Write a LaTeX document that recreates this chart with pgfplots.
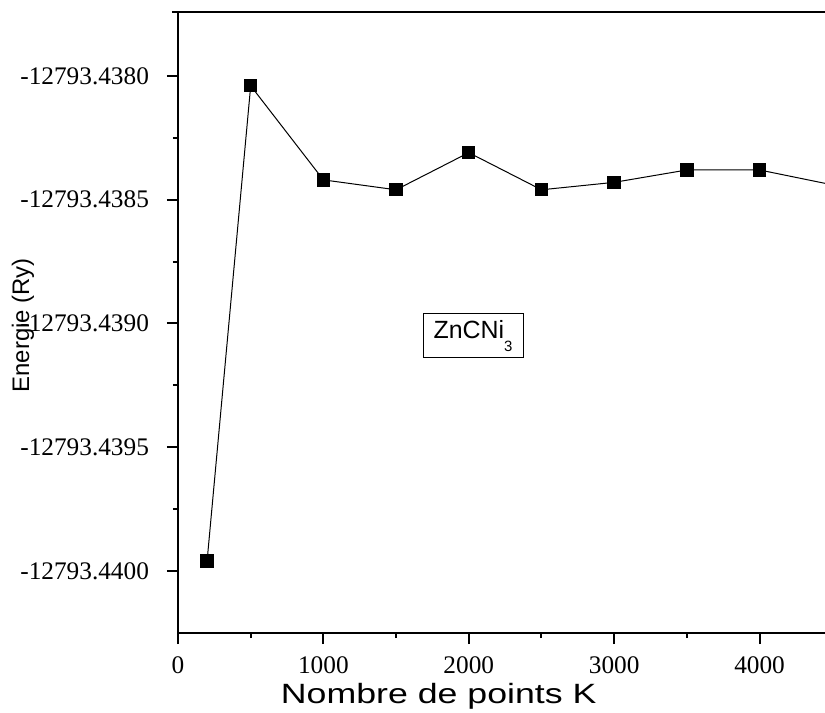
\documentclass[border=0pt]{standalone}
\usepackage{fontspec}
\setmainfont{Liberation Serif}
\newfontfamily\arial{Liberation Sans}
\usepackage{graphicx}
\usepackage{pgfplots}
\pgfplotsset{compat=1.18}
% Energies stored as E + 12793.44 (Ry) to keep precision
\pgfplotstableread{
K E
200  0.00004
500  0.00196
1000 0.00158
1500 0.00154
2000 0.00169
2500 0.00154
3000 0.00157
3500 0.00162
4000 0.00162
4500 0.00156
}\datatable
\begin{document}
\begin{tikzpicture}
\begin{axis}[
  scale only axis, width=323.5bp, height=310.25bp,
  xmin=0, xmax=4450, ymin=-0.00025, ymax=0.002256,
  axis lines*=left, axis line style={line width=1bp, -},
  tick align=outside, major tick length=5.5bp, minor tick length=2.5bp,
  every tick/.style={line width=1bp, black},
  xtick={0,1000,2000,3000,4000}, minor x tick num=1,
  ytick={0,0.0005,0.001,0.0015,0.002}, minor y tick num=1,
  yticklabels={-12793.4400,-12793.4395,-12793.4390,-12793.4385,-12793.4380},
  scaled y ticks=false, scaled x ticks=false,
  /pgf/number format/assume math mode=true,
  /pgf/number format/set thousands separator={},
  xticklabel style={font=\fontsize{12.7}{15}\selectfont, yshift=-3bp},
  yticklabel style={font=\fontsize{12.7}{15}\selectfont, xshift=-5.5bp},
  clip mode=individual,
]
\addplot[black, line width=0.5bp, mark=square*, mark size=3.1bp,
  mark options={fill=black, solid}] table[x=K, y=E] {\datatable};
\coordinate (ll) at (rel axis cs:0,0);
\coordinate (ur) at (rel axis cs:1,1);
\draw[line width=1bp] ([xshift=-3bp]rel axis cs:0,1) -- (rel axis cs:1,1);
\node[draw, line width=0.5bp, minimum width=50bp, minimum height=22bp,
  inner sep=0pt, font=\arial\fontsize{12.5}{15}\selectfont]
  at (rel axis cs:0.456,0.479) {ZnCNi\raisebox{-6.4bp}{\fontsize{7.5}{9}\selectfont 3}};
\node[anchor=center, inner sep=0pt, font=\arial\fontsize{14}{17}\selectfont]
  at ([yshift=-31.5bp]rel axis cs:0.403,0) {\scalebox{1.28}[1]{Nombre de points K}};
\node[anchor=center, inner sep=0pt, rotate=90, font=\arial\fontsize{12}{14}\selectfont]
  at ([xshift=-77.5bp]rel axis cs:0,0.496) {Energie (Ry)};
\end{axis}
\pgfresetboundingbox
\path ([shift={(-89bp,-40bp)}]ll) rectangle ([shift={(0bp,6.25bp)}]ur);
\end{tikzpicture}
\end{document}
